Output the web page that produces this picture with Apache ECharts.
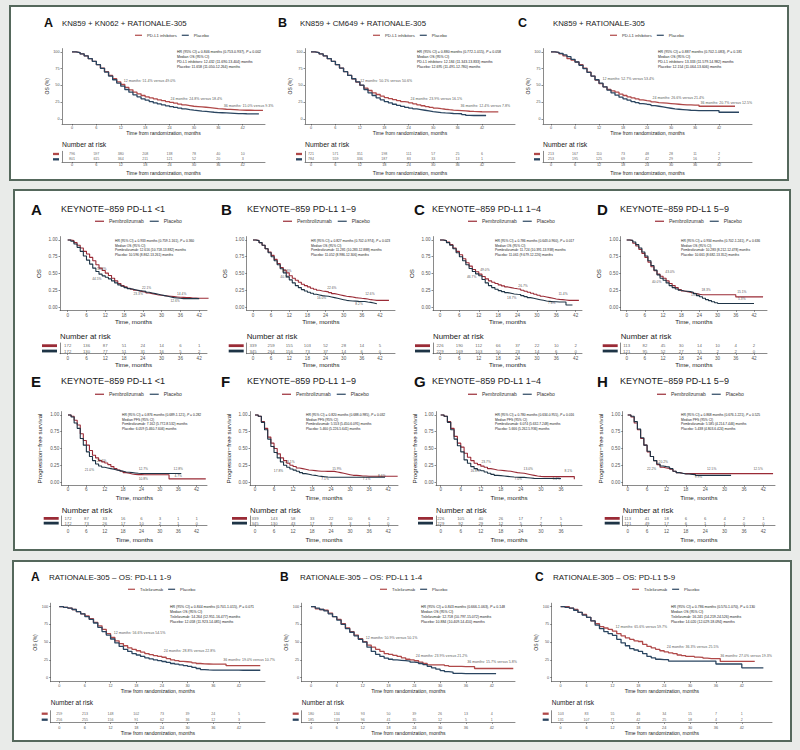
<!DOCTYPE html>
<html><head><meta charset="utf-8">
<script src="https://cdn.jsdelivr.net/npm/echarts@6/dist/echarts.min.js"></script>
<style>
html,body{margin:0;padding:0;background:#e9ebe9;}
#wrap{position:relative;width:800px;height:750px;}
.box{position:absolute;background:#fff;border:2px solid #55685c;box-sizing:border-box;}
#c{position:absolute;left:0;top:0;width:800px;height:750px;}
</style>
</head><body><div id="wrap">
<div class="box" style="left:9px;top:5px;width:780px;height:176px"></div>
<div class="box" style="left:13px;top:189px;width:778px;height:362px"></div>
<div class="box" style="left:12px;top:560px;width:780px;height:182px"></div>
<div id="c"></div></div>
<script>
// ================= DATA =================
const monthTicks = [0, 6, 12, 18, 24, 30, 36, 42];
const monthTicks36 = [0, 6, 12, 18, 24, 30, 36];
const pctTicks = [0, 25, 50, 75, 100];
const probTicks = [0, 0.25, 0.5, 0.75, 1];

// ---- Section 1 (OS %, value at each month from 0) ----
const s1A_trt = [100,99,97,94,90,86,81,76,70.5,65,60,55.5,51.4,47,43.5,40,37.5,35,33,31.5,30,28.5,27.3,26,24.8,23.5,22.3,21,20,19,18.5,18,17.5,17,16.3,15.5,15,14.5,14.3,14,13.5,13.3,13,13,12.8,12.8,12.8,12.8];
const s1A_pbo = [100,99,97,94,90,86,81,75.5,70,64,58.5,53.5,49,44,40,36,33,30,28,26,24,22.5,21,19.6,18.4,17.3,16.2,15,14,13.2,12.5,11.8,11.2,10.6,10,9.6,9.3,9,8.7,8.4,8.1,8,7.8,7.7,7.6,7.5,7.5];
const s1A_riskTrt = [796,597,380,208,138,78,40,10];
const s1A_riskPbo = [801,615,364,211,121,52,20,3];
const s1A_lm = [[12.6,56.7,'12 months: 51.4% versus 49.0%'],[24.1,29.9,'24 months: 24.8% versus 18.4%'],[37.2,20.1,'36 months: 15.0% versus 9.3%']];
const s1A_hr = ['HR (95% CI) = 0.846 months (0.753-0.937), {i|P} = 0.002','Median OS (95% CI)','PD-L1 inhibitors: 12.432 (11.690-13.404) months','Placebo: 11.658 (11.050-12.264) months'];

const s1B_trt = [100,99,97,94,90,86,81,76,70.5,65,60,55,50.1,46,42.5,39,36.5,34,32,30.5,29,27.5,26,25,23.9,22.5,21,19.7,18.5,17.3,16.2,15.3,14.5,13.8,13.2,12.8,12.4,12,11.5,11.2,11,10.8,10.7,10.6,10.5,10.5,10.5];
const s1B_pbo = [100,99,97,94,90,86,81,76,70.5,65,60,55.5,50.6,44,39,35,31.5,28.5,26,24,22,20.3,18.8,17.4,16.1,15,14,13,12,11,10.3,9.6,9,8.6,8.2,8,7.8,6.5,5.3,5.2,5.2,5.2,5.2,5.2];
const s1B_riskTrt = [721,571,351,198,111,57,25,6];
const s1B_riskPbo = [784,559,336,187,83,33,13,1];
const s1B_lm = [[12.0,56.7,'12 months: 50.1% versus 50.6%'],[24.3,29.9,'24 months: 23.9% versus 16.1%'],[36.6,19.4,'36 months: 12.4% versus 7.8%']];
const s1B_hr = ['HR (95% CI) = 0.880 months (0.772-1.015), {i|P} = 0.058','Median OS (95% CI)','PD-L1 inhibitors: 12.184 (11.343-13.833) months','Placebo: 12.695 (11.491-12.780) months'];

const s1C_trt = [100,99,97,94,90,88,85,81,76,70,64,58,52.7,48,44,42,40,37,35,33,31.5,30,28.5,27.5,26.6,25.5,24.5,24,23.5,23,22.5,22,21.5,21,21,20.7,20.7,19,19,19,19,19,19,19,19,19,19];
const s1C_pbo = [100,99.5,98,95.5,93,89,85,80,75,69.5,64,58.5,53.4,48,43,39,35.5,32.5,30,28,26,24.5,23,22,21.4,20,19,18,17,16,15,14.5,14,13.5,13,12.8,12.5,12.5,12.5,12.5,12.5,12.5,10,10,10,10,10,10];
const s1C_riskTrt = [213,167,110,73,48,28,11,2];
const s1C_riskPbo = [253,195,125,69,42,29,16,2];
const s1C_lm = [[12.75,59.7,'12 months: 52.7% versus 53.4%'],[25.25,31.3,'24 months: 26.6% versus 21.4%'],[37.25,23.9,'36 months: 20.7% versus 12.5%']];
const s1C_hr = ['HR (95% CI) = 0.887 months (0.702-1.083), {i|P} = 0.181','Median OS (95% CI)','PD-L1 inhibitors: 13.333 (11.579-14.982) months','Placebo: 12.154 (11.064-13.606) months'];

// ---- Section 2 (KEYNOTE-859, survival probability) ----
const s2A_trt = [1,.99,.96,.92,.88,.83,.79,.74,.69,.63,.58,.545,.506,.47,.43,.39,.35,.32,.30,.28,.265,.25,.24,.23,.221,.21,.20,.19,.18,.175,.17,.165,.16,.155,.15,.145,.144,.14,.14,.135,.135,.13,.13,.13,.13,.13];
const s2A_pbo = [1,.98,.94,.89,.83,.76,.70,.64,.58,.53,.49,.465,.445,.42,.39,.36,.33,.31,.29,.275,.265,.255,.245,.24,.233,.22,.21,.20,.19,.18,.17,.16,.15,.14,.135,.13,.126,.126,.126,.126,.126,.126,.126];
const s2A_riskTrt = [172,136,87,51,24,14,6,1];
const s2A_riskPbo = [172,130,77,51,31,16,5,2];
const s2A_lm = [[10.9,.563,'50.6%'],[9.3,.418,'44.5%'],[25.2,.288,'22.1%'],[22.5,.194,'23.3%'],[36.4,.194,'14.4%'],[34.3,.094,'12.6%']];
const s2A_hr = ['HR (95% CI) = 0.933 months (0.759-1.161), {i|P} = 0.360','Median OS (95% CI)','Pembrolizumab: 12.616 (10.718-13.882) months','Placebo: 10.596 (8.862-13.261) months'];

const s2B_trt = [1,.99,.96,.92,.87,.82,.77,.71,.65,.59,.55,.51,.466,.43,.40,.37,.34,.32,.30,.28,.265,.25,.24,.233,.226,.215,.20,.19,.18,.17,.16,.155,.15,.14,.135,.13,.126,.12,.11,.105,.10,.10,.10,.10,.10,.10];
const s2B_pbo = [1,.99,.96,.92,.87,.81,.75,.69,.63,.57,.51,.45,.405,.36,.32,.29,.26,.24,.22,.205,.19,.18,.17,.165,.16,.15,.14,.13,.12,.11,.10,.095,.09,.088,.085,.083,.082,.075,.07,.06,.05,.04];
const s2B_riskTrt = [339,259,155,103,52,28,14,5];
const s2B_riskPbo = [345,264,156,73,37,14,6,0];
const s2B_lm = [[11.2,.537,'46.6%'],[10.6,.443,'40.5%'],[26.1,.288,'22.6%'],[22.7,.139,'16.0%'],[38.7,.19,'12.6%'],[35.1,.045,'8.2%']];
const s2B_hr = ['HR (95% CI) = 0.827 months (0.702-0.974), {i|P} = 0.023','Median OS (95% CI)','Pembrolizumab: 11.281 (10.283-12.888) months','Placebo: 11.052 (8.986-12.306) months'];

const s2C_trt = [1,.99,.97,.93,.88,.83,.78,.72,.66,.61,.56,.525,.49,.455,.42,.39,.37,.35,.33,.315,.30,.29,.28,.273,.267,.25,.235,.22,.205,.19,.175,.16,.15,.14,.13,.12,.114,.11,.105,.10,.10,.10,.10,.10];
const s2C_pbo = [1,.99,.96,.92,.87,.81,.75,.69,.63,.575,.53,.495,.467,.41,.36,.32,.29,.265,.245,.23,.215,.205,.195,.19,.187,.17,.155,.14,.13,.12,.11,.10,.09,.085,.08,.078,.076,.075,.075,.03,.03,.03];
const s2C_riskTrt = [226,190,112,66,37,22,10,2];
const s2C_riskPbo = [229,169,103,50,23,14,6,0];
const s2C_lm = [[13.9,.552,'49.0%'],[9.8,.452,'46.7%'],[25.7,.313,'26.7%'],[22.2,.13,'18.7%'],[38.1,.19,'11.4%'],[34.6,.07,'7.6%']];
const s2C_hr = ['HR (95% CI) = 0.786 months (0.643-0.960), {i|P} = 0.017','Median OS (95% CI)','Pembrolizumab: 11.724 (10.391-13.938) months','Placebo: 11.061 (9.679-12.226) months'];

const s2D_trt = [1,.99,.95,.91,.86,.80,.74,.67,.60,.54,.49,.46,.43,.39,.35,.32,.29,.26,.24,.23,.22,.21,.20,.19,.183,.183,.183,.183,.183,.183,.183,.183,.183,.183,.183,.183,.151,.151,.151,.151,.151,.151,.151,.151,.151,.151];
const s2D_pbo = [1,.995,.97,.93,.88,.82,.76,.69,.62,.55,.48,.43,.40,.36,.32,.29,.27,.25,.24,.235,.23,.22,.20,.17,.154,.13,.11,.095,.08,.065,.053,.053,.053,.053,.053,.053,.053,.053,.053,.053,.053,.053,.053];
const s2D_riskTrt = [113,82,45,30,14,10,4,2];
const s2D_riskPbo = [121,95,52,27,15,2,2,0];
const s2D_lm = [[14.3,.518,'43.0%'],[9.9,.378,'40.0%'],[26.2,.258,'18.3%'],[22.8,.184,'15.4%'],[38,.224,'15.1%'],[38,.115,'5.3%']];
const s2D_hr = ['HR (95% CI) = 0.934 months (0.702-1.241), {i|P} = 0.636','Median OS (95% CI)','Pembrolizumab: 10.283 (8.212-12.478) months','Placebo: 10.661 (8.682-13.352) months'];

const s2E_trt = [1,.98,.92,.85,.72,.62,.55,.47,.40,.36,.32,.30,.283,.26,.23,.20,.18,.16,.14,.13,.12,.115,.11,.11,.108,.108,.108,.108,.108,.108,.108,.108,.108,.047,.047,.047,.047,.047,.047,.047,.047,.047,.047,.047,.047,.047];
const s2E_pbo = [1,.97,.88,.80,.65,.55,.45,.38,.32,.27,.24,.22,.21,.20,.19,.18,.17,.16,.15,.145,.14,.135,.13,.128,.128,.128,.128,.128,.128,.128,.128,.128,.128,.128,.128,.128,.128,.128];
const s2E_riskTrt = [172,87,33,16,6,3,1,1];
const s2E_riskPbo = [172,73,26,17,10,2,1,0];
const s2E_lm = [[11,.313,'28.3%'],[7,.179,'21.0%'],[24.6,.204,'12.7%'],[24.6,.045,'10.8%'],[36,.204,'12.8%'],[36,.09,'4.7%']];
const s2E_hr = ['HR (95% CI) = 0.876 months (0.689-1.121), {i|P} = 0.282','Median PFS (95% CI)','Pembrolizumab: 7.162 (5.772-8.532) months','Placebo: 6.059 (5.460-7.606) months'];

const s2F_trt = [1,.98,.90,.80,.67,.58,.50,.42,.36,.32,.28,.25,.231,.21,.20,.19,.18,.175,.17,.165,.16,.16,.159,.159,.159,.15,.14,.13,.12,.11,.10,.10,.095,.09,.09,.086,.086,.086,.086,.086,.086,.086,.086,.086,.086,.086];
const s2F_pbo = [1,.98,.89,.78,.64,.53,.44,.36,.30,.25,.22,.195,.178,.16,.14,.125,.115,.105,.10,.09,.085,.08,.075,.071,.071,.071,.071,.071,.071,.071,.071,.071,.071,.071,.071,.071,.071,.071,.071,.071,.071,.071];
const s2F_riskTrt = [339,143,58,33,22,10,6,2];
const s2F_riskPbo = [345,130,43,17,8,3,1,0];
const s2F_lm = [[11,.303,'23.1%'],[7.4,.164,'17.8%'],[25.8,.204,'15.9%'],[22.1,.045,'7.1%'],[40,.09,'8.6%'],[35.2,.045,'7.1%']];
const s2F_hr = ['HR (95% CI) = 0.820 months (0.688-0.985), {i|P} = 0.032','Median PFS (95% CI)','Pembrolizumab: 5.553 (5.450-6.091) months','Placebo: 5.460 (5.226-5.641) months'];

const s2G_trt = [1,.98,.90,.80,.68,.58,.52,.43,.37,.32,.28,.26,.237,.22,.20,.19,.18,.175,.17,.165,.16,.15,.14,.135,.13,.12,.11,.10,.09,.085,.081,.081,.081,.081,.081,.081,.081,.081,.081,.081,.04];
const s2G_pbo = [1,.98,.89,.78,.64,.54,.45,.33,.28,.23,.20,.18,.168,.15,.13,.115,.10,.095,.09,.085,.08,.075,.072,.07,.07,.065,.06,.055,.052,.052,.052,.052,.052,.052,.052,.052,.052];
const s2G_riskTrt = [226,105,40,26,17,7,5];
const s2G_riskPbo = [229,92,29,12,5,2,1];
const s2G_lm = [[13.6,.303,'23.7%'],[10.3,.164,'16.8%'],[26.2,.204,'13.0%'],[23.2,.045,'7.0%'],[38.2,.164,'8.1%'],[34.7,.045,'5.2%']];
const s2G_hr = ['HR (95% CI) = 0.780 months (0.634-0.955), {i|P} = 0.016','Median PFS (95% CI)','Pembrolizumab: 6.074 (5.632-7.248) months','Placebo: 5.666 (5.262-5.936) months'];

const s2H_trt = [1,.97,.88,.78,.65,.55,.45,.38,.32,.26,.22,.21,.202,.19,.16,.14,.13,.125,.125,.125,.125,.125,.125,.125,.125,.125,.125,.125,.125,.125,.125,.125,.125,.125,.125,.125,.125,.125,.125,.125,.125,.125,.125,.125,.125,.125];
const s2H_pbo = [1,.98,.90,.79,.66,.55,.46,.38,.32,.27,.24,.23,.222,.20,.16,.14,.13,.12,.12,.115,.11,.099,.099,.099,.099,.099,.099,.099,.099,.099,.099,.099,.099];
const s2H_riskTrt = [113,41,18,6,6,4,2,1];
const s2H_riskPbo = [121,49,17,6,1,1,0,0];
const s2H_lm = [[11,.303,'20.2%'],[7.4,.194,'22.2%'],[26,.194,'12.5%'],[21.9,.079,'9.9%'],[40.4,.194,'12.5%']];
const s2H_hr = ['HR (95% CI) = 0.868 months (0.676-1.221), {i|P} = 0.525','Median PFS (95% CI)','Pembrolizumab: 5.585 (4.214-7.446) months','Placebo: 5.438 (4.803-6.424) months'];

// ---- Section 3 (RATIONALE-305, OS %) ----
const s3A_trt = [100,99,98,96,93,90,87,83,78,73,68,62,56.6,52,48,45,42,40,38,36,34,32.5,31,30,28.8,27,25,24,23,22.5,22,21,20,19.5,19.3,19.1,19,19,19,17,17,17,17,17,17,17,17,17];
const s3A_pbo = [100,99,98,96,93,90,86,82,77,71,65,60,54.5,49,44,40,37,34,32,30,28,26.5,25,24,22.8,21.5,20,19,18,17,16,14.5,13,11.5,11,10.8,10.7,10.7,10.7,10.6,10.6,10.6,10.5,10.5,10.5,10.5,10.5,10.5];
const s3A_riskTrt = [259,213,148,102,73,39,24,5];
const s3A_riskPbo = [256,255,156,91,62,36,12,3];
const s3A_lm = [[12.6,62.5,'12 months: 56.6% versus 54.5%'],[24.3,37.6,'24 months: 28.8% versus 22.8%'],[38.2,24.9,'36 months: 19.0% versus 10.7%']];
const s3A_hr = ['HR (95% CI) = 0.844 months (0.701-1.015), {i|P} = 0.071','Median OS (95% CI)','Tislelizumab: 14.264 (12.951-16.477) months','Placebo: 12.058 (11.923-14.085) months'];

const s3B_trt = [100,97,96,95,91,86,82,76,70,65,60,55,50.9,46,43,40,37,34,33,31.5,30,28,26,25,23.9,22,20,18,18,18,18,17,16,16,16,15.7,15.7,15.7,13,13,13,13,13,13,13,13,13,13];
const s3B_pbo = [100,98,96,94,90,86,81,75,69,64,59,54,50.1,43,37,33,30,27.5,26,25,24.5,24,23.5,22,21.2,20,18.5,16,14,12,10,8.5,8,6,6,5.8,5.8,5.8,5.8,5.8,5.8,5.8,5.8,5.8];
const s3B_riskTrt = [180,134,93,50,39,26,13,4];
const s3B_riskPbo = [185,133,96,41,35,12,5,1];
const s3B_lm = [[12.6,55.5,'12 months: 50.9% versus 50.1%'],[24.2,30.6,'24 months: 23.9% versus 21.2%'],[36.2,21.7,'36 months: 15.7% versus 5.8%']];
const s3B_hr = ['HR (95% CI) = 0.843 months (0.666-1.063), {i|P} = 0.148','Median OS (95% CI)','Tislelizumab: 12.718 (10.797-15.072) months','Placebo: 10.884 (10.409-14.410) months'];

const s3C_trt = [100,100,98,96,92,89,85,80,76,72,70,68,65.6,62,59,56,54,52,51,47,44,42,40,38,36.3,35,34,32,31,30,30,29,28.5,27.5,27,27,27,23,23,23,23,23,23,23,23,23];
const s3C_pbo = [100,99,98,95,92,88,85,80,74,69,65,62,59.7,54,49,45,41,39,37,34,30,28,26,25.5,25.5,23.5,23.5,23.5,23.5,23.5,23.5,23.5,23.5,23.5,23.5,23.5,19.3,19.3,19.3,19.3,19.3,19.3,14,14,14,14,14,14];
const s3C_riskTrt = [103,83,55,46,34,15,7,1];
const s3C_riskPbo = [131,107,71,42,25,18,4,2];
const s3C_lm = [[12.6,71.8,'12 months: 65.6% versus 59.7%'],[24.5,43.7,'24 months: 36.3% versus 25.5%'],[36.9,30.6,'36 months: 27.0% versus 19.3%']];
const s3C_hr = ['HR (95% CI) = 0.786 months (0.570-1.070), {i|P} = 0.130','Median OS (95% CI)','Tislelizumab: 16.241 (14.219-24.526) months','Placebo: 14.020 (12.029-18.094) months'];

// ================= STYLES / LAYOUT =================
const FONT = '"Liberation Sans", Arial, Helvetica, sans-serif';
const S1 = {red:'#b04848', navy:'#2a4560', lw:1.3, yTicks:pctTicks, yFmt:v=>String(v),
  tickFont:3.8, nameFont:5, xName:'Time from randomization, months', yName:'OS (%)',
  xLabelMargin:1.6, xNameGap:5.5, yLabelMargin:2.5, yNameGap:11,
  riskFont:3.6, riskLabelMargin:0.6, riskNameGap:8.5, swW:6, swH:2.3, swMargin:3,
  titleFont:7.8, letterFont:12.5, narFont:6.8, legendFont:4.2, legendIconW:7, legendGap:5,
  hrFont:3.5, hrLH:5, lmFont:3.6, lmPos:'right'};
const S2 = {red:'#9a2b36', navy:'#1e3446', lw:1.1, yTicks:probTicks, yFmt:v=>v.toFixed(2),
  tickFont:4.6, nameFont:6.2, xName:'Time, months', yName:'OS',
  xLabelMargin:2.2, xNameGap:8.5, yLabelMargin:2.5, yNameGap:19,
  riskFont:4.3, riskLabelMargin:2.3, riskNameGap:8.2, swW:15, swH:2.8, swMargin:3,
  titleFont:9, letterFont:15, narFont:7.8, legendFont:5, legendIconW:9, legendGap:6,
  hrFont:3.3, hrLH:4.9, lmFont:3.3, lmPos:'inside'};
const S3 = Object.assign({}, S1, {xLabelMargin:2.2, xNameGap:6.5, riskLabelMargin:2.8, riskNameGap:8, yNameGap:12, titleFont:8, letterFont:12, narFont:6.5});

const panels = [
  // section 1
  {S:S1, letter:'A', title:'KN859 + KN062 + RATIONALE-305', letterX:44, titleX:62, titleY:23, legX:135, legY:36, gl:62, gr:265, gt:48.6, gb:124, x:[-2.46,47.5], y:[-7.5,105], rt:151.3, rb:162, narY:144, hrX:177, hrY:49, trtName:'PD-L1 inhibitors', trt:s1A_trt, pbo:s1A_pbo, rTrt:s1A_riskTrt, rPbo:s1A_riskPbo, lm:s1A_lm, hr:s1A_hr, ticks:monthTicks},
  {S:S1, letter:'B', title:'KN859 + CM649 + RATIONALE-305', letterX:278, titleX:300, titleY:23, legX:373, legY:36, gl:305, gr:515, gt:48.6, gb:124, x:[-1.47,50.1], y:[-7.5,105], rt:151.3, rb:162, narY:144, hrX:417, hrY:49, trtName:'PD-L1 inhibitors', trt:s1B_trt, pbo:s1B_pbo, rTrt:s1B_riskTrt, rPbo:s1B_riskPbo, lm:s1B_lm, hr:s1B_hr, ticks:monthTicks},
  {S:S1, letter:'C', title:'KN859 + RATIONALE-305', letterX:518, titleX:553, titleY:23, legX:610, legY:36, gl:543, gr:752, gt:48.6, gb:124, x:[-2,50.25], y:[-7.5,105], rt:151.3, rb:162, narY:144, hrX:658, hrY:49, trtName:'PD-L1 inhibitors', trt:s1C_trt, pbo:s1C_pbo, rTrt:s1C_riskTrt, rPbo:s1C_riskPbo, lm:s1C_lm, hr:s1C_hr, ticks:monthTicks},
  // section 2, OS row
  {S:S2, letter:'A', title:'KEYNOTE\u2212859 PD-L1 <1', letterX:31, titleX:61, titleY:209, legX:95, legY:222, gl:60, gr:207, gt:236.6, gb:310.4, x:[-2.46,44.5], y:[-0.05,1.05], rt:343, rb:353.7, narY:336, hrX:115, hrY:238, trtName:'Pembrolizumab', trt:s2A_trt, pbo:s2A_pbo, rTrt:s2A_riskTrt, rPbo:s2A_riskPbo, lm:s2A_lm, hr:s2A_hr, ticks:monthTicks},
  {S:S2, letter:'B', title:'KEYNOTE\u2212859 PD-L1 1\u22129', letterX:221, titleX:247, titleY:209, legX:283, legY:222, gl:246.7, gr:395, gt:236.6, gb:310.4, x:[-2.09,47.0], y:[-0.05,1.05], rt:343, rb:353.7, narY:336, hrX:311, hrY:238, trtName:'Pembrolizumab', trt:s2B_trt, pbo:s2B_pbo, rTrt:s2B_riskTrt, rPbo:s2B_riskPbo, lm:s2B_lm, hr:s2B_hr, ticks:monthTicks},
  {S:S2, letter:'C', title:'KEYNOTE\u2212859 PD-L1 1\u22124', letterX:414, titleX:432, titleY:209, legX:468, legY:222, gl:433, gr:582, gt:236.6, gb:310.4, x:[-2.17,43.96], y:[-0.05,1.05], rt:343, rb:353.7, narY:336, hrX:495, hrY:238, trtName:'Pembrolizumab', trt:s2C_trt, pbo:s2C_pbo, rTrt:s2C_riskTrt, rPbo:s2C_riskPbo, lm:s2C_lm, hr:s2C_hr, ticks:monthTicks},
  {S:S2, letter:'D', title:'KEYNOTE\u2212859 PD-L1 5\u22129', letterX:597, titleX:620, titleY:209, legX:655, legY:222, gl:620.7, gr:767, gt:236.6, gb:310.4, x:[-1.98,46.3], y:[-0.05,1.05], rt:343, rb:353.7, narY:336, hrX:681, hrY:238, trtName:'Pembrolizumab', trt:s2D_trt, pbo:s2D_pbo, rTrt:s2D_riskTrt, rPbo:s2D_riskPbo, lm:s2D_lm, hr:s2D_hr, ticks:monthTicks},
  // section 2, PFS row
  {S:S2, pfs:true, letter:'E', title:'KEYNOTE\u2212859 PD-L1 <1', letterX:31, titleX:61, titleY:381, legX:95, legY:395, gl:61.7, gr:207, gt:411.6, gb:485.4, x:[-2.06,45.4], y:[-0.05,1.05], rt:516, rb:525.5, narY:510, hrX:122, hrY:412, trtName:'Pembrolizumab', trt:s2E_trt, pbo:s2E_pbo, rTrt:s2E_riskTrt, rPbo:s2E_riskPbo, lm:s2E_lm, hr:s2E_hr, ticks:monthTicks},
  {S:S2, pfs:true, letter:'F', title:'KEYNOTE\u2212859 PD-L1 1\u22129', letterX:221, titleX:247, titleY:381, legX:282, legY:395, gl:250, gr:398, gt:411.6, gb:485.4, x:[-1.58,45.1], y:[-0.05,1.05], rt:516, rb:525.5, narY:510, hrX:306, hrY:412, trtName:'Pembrolizumab', trt:s2F_trt, pbo:s2F_pbo, rTrt:s2F_riskTrt, rPbo:s2F_riskPbo, lm:s2F_lm, hr:s2F_hr, ticks:monthTicks},
  {S:S2, pfs:true, letter:'G', title:'KEYNOTE\u2212859 PD-L1 1\u22124', letterX:414, titleX:432, titleY:381, legX:468, legY:395, gl:436, gr:582, gt:411.6, gb:485.4, x:[-1.41,42.3], y:[-0.05,1.05], rt:516, rb:525.5, narY:510, hrX:495, hrY:412, trtName:'Pembrolizumab', trt:s2G_trt, pbo:s2G_pbo, rTrt:s2G_riskTrt, rPbo:s2G_riskPbo, lm:s2G_lm, hr:s2G_hr, ticks:monthTicks36},
  {S:S2, pfs:true, letter:'H', title:'KEYNOTE\u2212859 PD-L1 5\u22129', letterX:597, titleX:620, titleY:381, legX:657, legY:395, gl:622.7, gr:775, gt:411.6, gb:485.4, x:[-1.55,45.6], y:[-0.05,1.05], rt:516, rb:525.5, narY:510, hrX:681, hrY:412, trtName:'Pembrolizumab', trt:s2H_trt, pbo:s2H_pbo, rTrt:s2H_riskTrt, rPbo:s2H_riskPbo, lm:s2H_lm, hr:s2H_hr, ticks:monthTicks},
  // section 3
  {S:S3, letter:'A', title:'RATIONALE-305 \u2013 OS: PD-L1 1-9', letterX:31, titleX:49, titleY:577, legX:128, legY:590, gl:50.7, gr:265, gt:603.2, gb:681.7, x:[-2.0,48.1], y:[-5.6,104.9], rt:710.7, rb:722.7, narY:702.7, hrX:170, hrY:604.5, trtName:'Tislelizumab', trt:s3A_trt, pbo:s3A_pbo, rTrt:s3A_riskTrt, rPbo:s3A_riskPbo, lm:s3A_lm, hr:s3A_hr, ticks:monthTicks},
  {S:S3, letter:'B', title:'RATIONALE-305 \u2013 OS: PD-L1 1-4', letterX:280, titleX:300, titleY:577, legX:380, legY:590, gl:301.7, gr:515, gt:603.2, gb:681.7, x:[-2.16,47.4], y:[-5.6,104.9], rt:710.7, rb:722.7, narY:702.7, hrX:421, hrY:604.5, trtName:'Tislelizumab', trt:s3B_trt, pbo:s3B_pbo, rTrt:s3B_riskTrt, rPbo:s3B_riskPbo, lm:s3B_lm, hr:s3B_hr, ticks:monthTicks},
  {S:S3, letter:'C', title:'RATIONALE-305 \u2013 OS: PD-L1 5-9', letterX:535, titleX:553, titleY:577, legX:632, legY:590, gl:551.7, gr:772, gt:603.2, gb:681.7, x:[-2.08,49.0], y:[-5.6,104.9], rt:710.7, rb:722.7, narY:702.7, hrX:671, hrY:604.5, trtName:'Tislelizumab', trt:s3C_trt, pbo:s3C_pbo, rTrt:s3C_riskTrt, rPbo:s3C_riskPbo, lm:s3C_lm, hr:s3C_hr, ticks:monthTicks}
];

// ================= BUILD =================
const option = {animation:false, textStyle:{fontFamily:FONT}, grid:[], xAxis:[], yAxis:[], series:[], legend:[], graphic:[]};
const AX = {color:'#3a3a3a', width:0.6};

function txt(x, y, text, style) {
  option.graphic.push({type:'text', x:x, y:y, silent:true, style:Object.assign({text:text, fontFamily:FONT, fill:'#222', verticalAlign:'middle', textVerticalAlign:'middle'}, style)});
}

panels.forEach(P => {
  const S = P.S;
  const w = P.gr - P.gl;
  const xNameGap = P.pfs ? 9.5 : S.xNameGap;
  const xLabelMargin = P.pfs ? 1.3 : S.xLabelMargin;
  const rLabelMargin = P.pfs ? 3.6 : S.riskLabelMargin;
  const rNameGap = P.pfs ? 11 : S.riskNameGap;
  // ---- main plot ----
  const gi = option.grid.length;
  option.grid.push({left:P.gl, top:P.gt, width:w, height:P.gb - P.gt});
  option.xAxis.push({gridIndex:gi, type:'value', min:P.x[0], max:P.x[1],
    axisLine:{show:true, onZero:false, lineStyle:AX},
    axisTick:{show:true, length:1.5, customValues:P.ticks, lineStyle:AX},
    axisLabel:{customValues:P.ticks, fontSize:S.tickFont, color:'#555', margin:xLabelMargin, fontFamily:FONT},
    splitLine:{show:false},
    name:S.xName, nameLocation:'middle', nameGap:xNameGap, nameTextStyle:{fontSize:S.nameFont, color:'#222', fontFamily:FONT}});
  option.yAxis.push({gridIndex:gi, type:'value', min:P.y[0], max:P.y[1],
    axisLine:{show:true, onZero:false, lineStyle:AX},
    axisTick:{show:true, length:1.5, customValues:S.yTicks, lineStyle:AX},
    axisLabel:{customValues:S.yTicks, formatter:S.yFmt, fontSize:S.tickFont, color:'#555', margin:S.yLabelMargin, fontFamily:FONT},
    splitLine:{show:false},
    name:P.pfs ? 'Progression\u2212free survival' : S.yName, nameLocation:'middle', nameRotate:90, nameGap:S.yNameGap,
    nameTextStyle:{fontSize:S.nameFont, color:'#222', fontFamily:FONT}});
  option.series.push({type:'line', name:P.trtName, xAxisIndex:gi, yAxisIndex:gi, step:'end', symbol:'none', showSymbol:false, silent:true,
    data:P.trt.map((v,i)=>[i,v]), lineStyle:{color:S.red, width:S.lw}, itemStyle:{color:S.red}, z:3});
  option.series.push({type:'line', name:'Placebo', xAxisIndex:gi, yAxisIndex:gi, step:'end', symbol:'none', showSymbol:false, silent:true,
    data:P.pbo.map((v,i)=>[i,v]), lineStyle:{color:S.navy, width:S.lw}, itemStyle:{color:S.navy}, z:4});
  option.series.push({type:'scatter', name:'landmarks', xAxisIndex:gi, yAxisIndex:gi, symbolSize:1, silent:true,
    itemStyle:{color:'rgba(0,0,0,0)'}, data:P.lm, z:5,
    label:{show:true, position:S.lmPos, distance:0, formatter:p=>p.value[2], fontSize:S.lmFont, color:'#222', fontFamily:FONT}});
  // ---- risk table ----
  const ri = option.grid.length;
  option.grid.push({left:P.gl, top:P.rt, width:w, height:P.rb - P.rt});
  option.xAxis.push({gridIndex:ri, type:'value', min:P.x[0], max:P.x[1],
    axisLine:{show:true, onZero:false, lineStyle:AX},
    axisTick:{show:true, length:1.2, customValues:P.ticks, lineStyle:AX},
    axisLabel:{customValues:P.ticks, fontSize:S.tickFont, color:'#555', margin:rLabelMargin, fontFamily:FONT},
    splitLine:{show:false},
    name:S.xName, nameLocation:'middle', nameGap:rNameGap, nameTextStyle:{fontSize:S.nameFont, color:'#222', fontFamily:FONT}});
  option.yAxis.push({gridIndex:ri, type:'category', data:['pbo','trt'],
    axisLine:{show:true, onZero:false, lineStyle:AX}, axisTick:{show:false}, splitLine:{show:false},
    axisLabel:{interval:0, hideOverlap:false, margin:S.swMargin, formatter:v => v === 'trt' ? '{r| }' : '{b| }',
      rich:{r:{width:S.swW, height:S.swH, lineHeight:S.swH, fontSize:1, backgroundColor:S.red},
            b:{width:S.swW, height:S.swH, lineHeight:S.swH, fontSize:1, backgroundColor:S.navy}}}});
  [['trt', P.rTrt], ['pbo', P.rPbo]].forEach(([row, vals]) => {
    option.series.push({type:'scatter', name:'risk', xAxisIndex:ri, yAxisIndex:ri, symbolSize:1, silent:true,
      itemStyle:{color:'rgba(0,0,0,0)'}, data:vals.map((v,i)=>[P.ticks[i], row, v]),
      label:{show:true, position:'inside', formatter:p=>String(p.value[2]), fontSize:S.riskFont, color:'#333', fontFamily:FONT}});
  });
  // ---- legend ----
  option.legend.push({data:[P.trtName, 'Placebo'], left:P.legX, top:P.legY - S.legendFont*0.65, padding:0,
    itemWidth:S.legendIconW, itemHeight:1.2, itemGap:S.legendGap, icon:'rect', selectedMode:false,
    textStyle:{fontSize:S.legendFont, color:'#333', fontFamily:FONT}});
  // ---- texts ----
  txt(P.letterX, P.titleY, P.letter, {fontSize:S.letterFont, fontWeight:'bold', fill:'#111'});
  txt(P.titleX, P.titleY, P.title, {fontSize:S.titleFont, fill:'#222'});
  txt(P.gl, P.narY, 'Number at risk', {fontSize:S.narFont, fill:'#222'});
  option.graphic.push({type:'text', x:P.hrX, y:P.hrY, silent:true,
    style:{text:P.hr.join('\n'), fontFamily:FONT, fontSize:S.hrFont, lineHeight:S.hrLH, fill:'#222', verticalAlign:'top', textVerticalAlign:'top',
      rich:{i:{fontStyle:'italic', fontSize:S.hrFont, lineHeight:S.hrLH, fontFamily:FONT, fill:'#222'}}}});
});

const chart = echarts.init(document.getElementById('c'), null, {renderer:'svg', width:800, height:750});
chart.setOption(option);
</script>
</body></html>
